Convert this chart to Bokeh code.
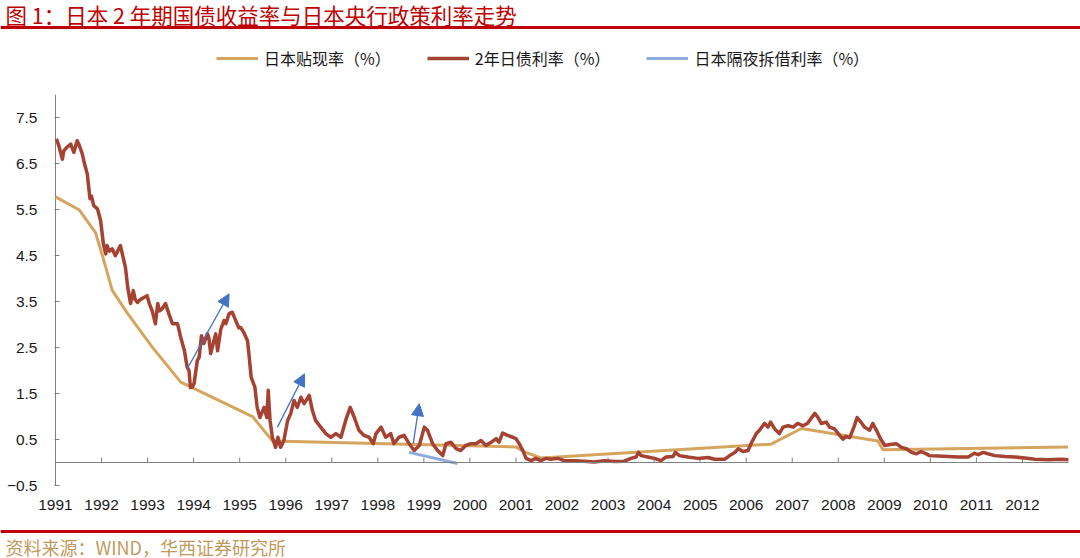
from bokeh.plotting import figure
from bokeh.models import Range1d, FixedTicker, Span, Legend, LegendItem, Arrow, NormalHead, ColumnDataSource
from bokeh.layouts import column
from bokeh.embed import file_html
from bokeh.resources import INLINE
from bokeh.core.properties import value

TITLE = "图 1：日本 2 年期国债收益率与日本央行政策利率走势"
SOURCE = "资料来源：WIND，华西证券研究所"
SERIES_NAMES = ["日本贴现率（%）", "2年日债利率（%）", "日本隔夜拆借利率（%）"]

year_labels = list(range(1991, 2013))
y_ticks = [-0.5, 0.5, 1.5, 2.5, 3.5, 4.5, 5.5, 6.5, 7.5]
y_axis_min, y_axis_max = -0.5, 8.0

# BoJ discount rate (%), vertices of the line
discount_year = [1991.00, 1991.51, 1991.87, 1992.02, 1992.23, 1992.56, 1993.11, 1993.72,
                 1995.28, 1995.71, 2001.00, 2001.18, 2001.54, 2006.54, 2007.20, 2008.86,
                 2008.97, 2012.99]
discount_rate = [5.78, 5.50, 5.00, 4.50, 3.75, 3.25, 2.50, 1.75,
                 1.00, 0.47, 0.34, 0.23, 0.10, 0.40, 0.74, 0.47,
                 0.28, 0.34]

# 2-year JGB yield (%)
jgb_points = [
    (1991.02, 7.04), (1991.07, 6.90), (1991.15, 6.60), (1991.18, 6.78), (1991.24, 6.85),
    (1991.33, 6.93), (1991.40, 6.75), (1991.47, 7.00), (1991.51, 6.92), (1991.58, 6.72),
    (1991.63, 6.50), (1991.69, 6.28), (1991.72, 6.00), (1991.75, 5.74), (1991.78, 5.80),
    (1991.83, 5.59), (1991.91, 5.52), (1991.93, 5.45), (1991.98, 5.26), (1992.04, 4.76),
    (1992.09, 4.54), (1992.12, 4.72), (1992.17, 4.60), (1992.23, 4.65), (1992.30, 4.50),
    (1992.35, 4.60), (1992.41, 4.72), (1992.46, 4.50), (1992.52, 4.24), (1992.57, 3.80),
    (1992.63, 3.46), (1992.69, 3.74), (1992.73, 3.55), (1992.78, 3.48), (1992.85, 3.55),
    (1992.92, 3.59), (1992.99, 3.63), (1993.04, 3.45), (1993.10, 3.30), (1993.17, 3.02),
    (1993.22, 3.46), (1993.26, 3.30), (1993.32, 3.35), (1993.39, 3.46), (1993.46, 3.24),
    (1993.54, 3.02), (1993.65, 3.02), (1993.72, 2.72), (1993.80, 2.43), (1993.86, 2.07),
    (1993.90, 2.00), (1993.93, 1.63), (1993.97, 1.64), (1994.01, 1.72), (1994.08, 2.22),
    (1994.12, 2.29), (1994.17, 2.76), (1994.22, 2.59), (1994.30, 2.80), (1994.33, 2.72),
    (1994.37, 2.37), (1994.44, 2.65), (1994.48, 2.80), (1994.52, 2.43), (1994.59, 2.90),
    (1994.66, 3.09), (1994.70, 3.02), (1994.77, 3.24), (1994.84, 3.27), (1994.91, 3.10),
    (1994.98, 2.93), (1995.02, 2.94), (1995.09, 2.83), (1995.17, 2.65), (1995.20, 2.37),
    (1995.25, 1.85), (1995.33, 1.64), (1995.38, 1.20), (1995.44, 0.98), (1995.53, 1.20),
    (1995.59, 0.98), (1995.62, 1.57), (1995.66, 0.91), (1995.71, 0.55), (1995.78, 0.33),
    (1995.83, 0.55), (1995.89, 0.33), (1995.96, 0.48), (1996.04, 0.91), (1996.11, 1.07),
    (1996.18, 1.35), (1996.25, 1.20), (1996.33, 1.42), (1996.40, 1.28), (1996.51, 1.46),
    (1996.58, 1.13), (1996.65, 0.91), (1996.76, 0.77), (1996.87, 0.63), (1996.98, 0.55),
    (1997.09, 0.63), (1997.20, 0.55), (1997.30, 0.91), (1997.40, 1.20), (1997.49, 0.98),
    (1997.59, 0.70), (1997.70, 0.59), (1997.81, 0.55), (1997.90, 0.41), (1997.96, 0.63),
    (1998.07, 0.77), (1998.17, 0.55), (1998.28, 0.63), (1998.35, 0.41), (1998.46, 0.55),
    (1998.57, 0.59), (1998.68, 0.41), (1998.79, 0.26), (1998.90, 0.37), (1999.01, 0.77),
    (1999.08, 0.70), (1999.19, 0.41), (1999.30, 0.26), (1999.41, 0.15), (1999.48, 0.41),
    (1999.59, 0.44), (1999.70, 0.30), (1999.80, 0.26), (1999.91, 0.37), (2000.02, 0.41),
    (2000.13, 0.41), (2000.24, 0.48), (2000.35, 0.37), (2000.46, 0.44), (2000.57, 0.52),
    (2000.63, 0.44), (2000.71, 0.64), (2000.82, 0.59), (2000.93, 0.55), (2001.00, 0.52),
    (2001.07, 0.41), (2001.15, 0.26), (2001.22, 0.09), (2001.33, 0.04), (2001.43, 0.09),
    (2001.54, 0.04), (2001.65, 0.09), (2001.76, 0.07), (2001.91, 0.09), (2002.05, 0.04),
    (2002.27, 0.04), (2002.48, 0.03), (2002.70, 0.01), (2002.92, 0.04), (2003.14, 0.02),
    (2003.35, 0.03), (2003.50, 0.09), (2003.61, 0.12), (2003.66, 0.22), (2003.72, 0.15),
    (2003.86, 0.12), (2004.01, 0.09), (2004.15, 0.04), (2004.26, 0.12), (2004.41, 0.13),
    (2004.46, 0.22), (2004.55, 0.15), (2004.73, 0.12), (2004.95, 0.09), (2005.17, 0.11),
    (2005.31, 0.07), (2005.53, 0.07), (2005.64, 0.15), (2005.75, 0.22), (2005.83, 0.30),
    (2005.93, 0.24), (2006.04, 0.26), (2006.12, 0.44), (2006.22, 0.63), (2006.29, 0.70),
    (2006.36, 0.80), (2006.40, 0.85), (2006.47, 0.77), (2006.53, 0.88), (2006.62, 0.73),
    (2006.72, 0.63), (2006.80, 0.77), (2006.91, 0.80), (2007.02, 0.77), (2007.12, 0.85),
    (2007.23, 0.80), (2007.33, 0.85), (2007.41, 0.96), (2007.49, 1.07), (2007.56, 0.98),
    (2007.63, 0.85), (2007.74, 0.88), (2007.81, 0.77), (2007.92, 0.73), (2008.03, 0.59),
    (2008.10, 0.51), (2008.17, 0.57), (2008.25, 0.54), (2008.34, 0.77), (2008.41, 0.98),
    (2008.49, 0.88), (2008.57, 0.77), (2008.68, 0.70), (2008.75, 0.85), (2008.83, 0.70),
    (2008.90, 0.55), (2008.93, 0.50), (2009.01, 0.37), (2009.12, 0.39), (2009.26, 0.41),
    (2009.37, 0.33), (2009.48, 0.30), (2009.59, 0.22), (2009.70, 0.19), (2009.80, 0.24),
    (2009.91, 0.19), (2009.98, 0.15), (2010.17, 0.14), (2010.38, 0.13), (2010.60, 0.12),
    (2010.82, 0.12), (2010.96, 0.20), (2011.04, 0.17), (2011.15, 0.22), (2011.25, 0.19),
    (2011.40, 0.15), (2011.62, 0.13), (2011.83, 0.12), (2012.05, 0.10), (2012.27, 0.07),
    (2012.56, 0.06), (2012.85, 0.07), (2012.99, 0.06),
]
jgb_year = [d for d, _ in jgb_points]
jgb_yield = [v for _, v in jgb_points]

# Overnight call rate (%)
overnight_year = [1998.68, 1999.73]
overnight_rate = [0.22, -0.02]

# annotation arrows (start -> end, in data units)
arrow_x0 = [1993.86, 1995.82, 1998.77]
arrow_y0 = [2.04, 0.77, 0.41]
arrow_x1 = [1994.77, 1996.41, 1998.90]
arrow_y1 = [3.67, 1.93, 1.28]

GOLD = "#D5A55F"
RED = "#A54232"
LBLUE = "#8FAADC"
ABLUE = "#4472C4"
TITLE_RED = "#C00000"
SRC_COLOR = "#BF9A5E"
AXIS_GRAY = "#808080"
TXT = "#1a1a1a"
CJK = "Noto Sans CJK SC"
LATIN = "Liberation Sans"

W = 1080
PX_PER_UNIT = 45.96


def no_align(f):
    if "frame_align" in f.properties():
        f.frame_align = False
    return f


def bare(h):
    f = figure(width=W, height=h, x_range=Range1d(0, W), y_range=Range1d(0, h),
               x_axis_location=None, y_axis_location=None, min_border=0,
               toolbar_location=None, output_backend="svg")
    f.grid.visible = False
    f.outline_line_color = None
    return no_align(f)


# ---- header ----
HEAD_H = 32
head = bare(HEAD_H)
head.text(x=[5], y=[HEAD_H - 13.8], text=[TITLE], text_font=value(CJK), text_font_size="21.5px",
          text_color=TITLE_RED, text_baseline="middle", text_align="left")
head.add_layout(Span(location=HEAD_H - 27, dimension="width", line_color=TITLE_RED, line_width=3))

# ---- main chart ----
MAIN_H = 488
FRAME_H = 453
p = figure(width=W, height=MAIN_H,
           x_range=Range1d(1991 - 1 / 46, 2013),
           y_range=Range1d(y_axis_min, y_axis_min + FRAME_H / PX_PER_UNIT),
           min_border_left=54, min_border_right=12, min_border_top=0,
           min_border_bottom=MAIN_H - FRAME_H,
           toolbar_location=None, output_backend="svg")
no_align(p)
p.grid.visible = False
p.outline_line_color = None

p.xaxis.ticker = FixedTicker(ticks=year_labels)
p.xaxis.axis_line_color = None
p.xaxis.major_tick_line_color = None
p.xaxis.minor_tick_line_color = None
p.xaxis.major_label_text_font = LATIN
p.xaxis.major_label_text_font_size = "15.5px"
p.xaxis.major_label_text_color = TXT
p.xaxis.major_label_standoff = 8

p.yaxis.ticker = FixedTicker(ticks=y_ticks)
p.yaxis.axis_line_color = None
p.yaxis.major_tick_in = 5
p.yaxis.major_tick_out = 0
p.yaxis.major_tick_line_color = AXIS_GRAY
p.yaxis.minor_tick_line_color = None
p.yaxis.major_label_text_font = LATIN
p.yaxis.major_label_text_font_size = "15.5px"
p.yaxis.major_label_text_color = TXT
p.yaxis.major_label_standoff = 17

# y spine and zero line with upward ticks
p.segment(x0=[year_labels[0]], y0=[y_axis_min], x1=[year_labels[0]], y1=[y_axis_max],
          line_color=AXIS_GRAY, line_width=1)
p.add_layout(Span(location=0, dimension="width", line_color=AXIS_GRAY, line_width=1))
tick_years = year_labels + [year_labels[-1] + 1]
p.segment(x0=tick_years, y0=[0] * len(tick_years), x1=tick_years,
          y1=[5 / PX_PER_UNIT] * len(tick_years), line_color=AXIS_GRAY, line_width=1)

r_gold = p.line(discount_year, discount_rate, line_color=GOLD, line_width=3)
r_jgb = p.line(jgb_year, jgb_yield, line_color=RED, line_width=3.5, line_join="round")
r_on = p.line(overnight_year, overnight_rate, line_color=LBLUE, line_width=3)

arrows = ColumnDataSource(dict(x0=arrow_x0, y0=arrow_y0, x1=arrow_x1, y1=arrow_y1))
p.add_layout(Arrow(end=NormalHead(size=12, fill_color=ABLUE, line_color=ABLUE),
                   x_start="x0", y_start="y0", x_end="x1", y_end="y1", source=arrows,
                   line_color=ABLUE, line_width=1.3))

LEG_H = 16
legend = Legend(items=[LegendItem(label=SERIES_NAMES[0], renderers=[r_gold]),
                       LegendItem(label=SERIES_NAMES[1], renderers=[r_jgb]),
                       LegendItem(label=SERIES_NAMES[2], renderers=[r_on])],
                orientation="horizontal", location=(162, FRAME_H - 30 - LEG_H // 2),
                border_line_color=None, background_fill_alpha=0,
                padding=0, margin=0, spacing=36, glyph_width=42, glyph_height=LEG_H,
                label_height=LEG_H, label_standoff=6,
                label_text_font=CJK, label_text_font_size="16px", label_text_color=TXT)
p.add_layout(legend)

# ---- footer ----
FOOT_H = 38
foot = bare(FOOT_H)
foot.add_layout(Span(location=FOOT_H - 11, dimension="width", line_color=TITLE_RED, line_width=3))
foot.text(x=[5], y=[FOOT_H - 26], text=[SOURCE], text_font=value(CJK), text_font_size="18px",
          text_color=SRC_COLOR, text_baseline="middle", text_align="left")

layout = column(head, p, foot, spacing=0)
open("out.html", "w").write(file_html(layout, INLINE))
